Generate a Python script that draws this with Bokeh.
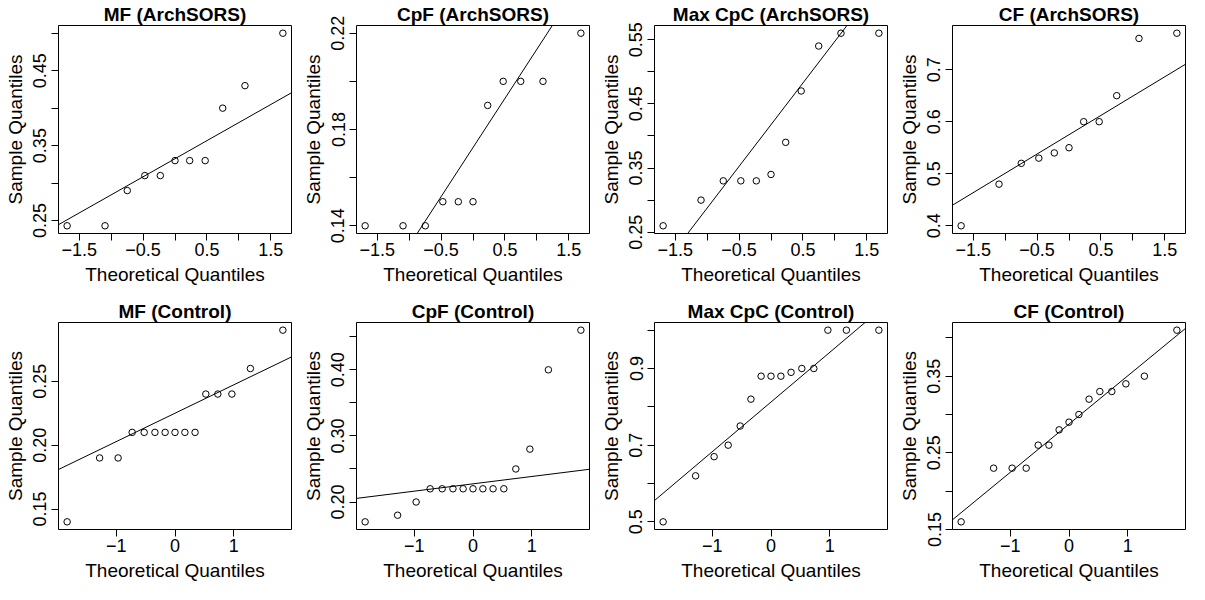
import numpy as np
from bokeh.plotting import figure
from bokeh.models import Range1d, FixedTicker, Slope, ColumnDataSource
from bokeh.layouts import column, row
from bokeh.embed import file_html
from bokeh.resources import INLINE

# ---------------- data ----------------
theo11 = [-1.691, -1.097, -0.748, -0.473, -0.230, 0.0, 0.230, 0.473, 0.748, 1.097, 1.691]
theo15 = [-1.834, -1.282, -0.967, -0.728, -0.524, -0.341, -0.168, 0.0,
          0.168, 0.341, 0.524, 0.728, 0.967, 1.282, 1.834]

mf_arch = [0.243, 0.243, 0.29, 0.31, 0.31, 0.33, 0.33, 0.33, 0.40, 0.43, 0.50]
cpf_arch = [0.14, 0.14, 0.14, 0.15, 0.15, 0.15, 0.19, 0.20, 0.20, 0.20, 0.22]
maxcpc_arch = [0.26, 0.30, 0.33, 0.33, 0.33, 0.34, 0.39, 0.47, 0.54, 0.56, 0.56]
cf_arch = [0.40, 0.48, 0.52, 0.53, 0.54, 0.55, 0.60, 0.60, 0.65, 0.76, 0.77]

mf_ctrl = [0.14, 0.19, 0.19, 0.21, 0.21, 0.21, 0.21, 0.21, 0.21, 0.21, 0.24, 0.24, 0.24, 0.26, 0.29]
cpf_ctrl = [0.17, 0.18, 0.20, 0.22, 0.22, 0.22, 0.22, 0.22, 0.22, 0.22, 0.22, 0.25, 0.28, 0.40, 0.46]
maxcpc_ctrl = [0.50, 0.62, 0.67, 0.70, 0.75, 0.82, 0.88, 0.88, 0.88, 0.89, 0.90, 0.90, 1.00, 1.00, 1.00]
cf_ctrl = [0.16, 0.23, 0.23, 0.23, 0.26, 0.26, 0.28, 0.29, 0.30, 0.32, 0.33, 0.33, 0.34, 0.35, 0.41]

titles_top = ["MF (ArchSORS)", "CpF (ArchSORS)", "Max CpC (ArchSORS)", "CF (ArchSORS)"]
titles_bot = ["MF (Control)", "CpF (Control)", "Max CpC (Control)", "CF (Control)"]

xticks_top = [-1.5, -1.0, -0.5, 0.0, 0.5, 1.0, 1.5]
xlabels_top = ["\u22121.5", "", "\u22120.5", "", "0.5", "", "1.5"]
xticks_bot = [-1.0, 0.0, 1.0]
xlabels_bot = ["\u22121", "0", "1"]

yticks = [
    [0.25, 0.30, 0.35, 0.40, 0.45, 0.50],
    [0.14, 0.16, 0.18, 0.20, 0.22],
    [0.25, 0.30, 0.35, 0.40, 0.45, 0.50, 0.55],
    [0.4, 0.5, 0.6, 0.7],
    [0.15, 0.20, 0.25],
    [0.20, 0.25, 0.30, 0.35, 0.40, 0.45],
    [0.5, 0.6, 0.7, 0.8, 0.9, 1.0],
    [0.15, 0.20, 0.25, 0.30, 0.35, 0.40],
]
ylabels = [
    ["0.25", "", "0.35", "", "0.45", ""],
    ["0.14", "", "0.18", "", "0.22"],
    ["0.25", "", "0.35", "", "0.45", "", "0.55"],
    ["0.4", "0.5", "0.6", "0.7"],
    ["0.15", "0.20", "0.25"],
    ["0.20", "", "0.30", "", "0.40", ""],
    ["0.5", "", "0.7", "", "0.9", ""],
    ["0.15", "", "0.25", "", "0.35", ""],
]

FONT = "Liberation Sans"


def panel(title, x, y, yt, yl, xt, xl, top_row, last):
    x = np.array(x); y = np.array(y)
    xpad = 0.04 * (x.max() - x.min())
    ypad = 0.04 * (y.max() - y.min())
    p = figure(
        title=title,
        width=292 if last else 298,
        height=297 if top_row else 287,
        x_range=Range1d(x.min() - xpad, x.max() + xpad),
        y_range=Range1d(y.min() - ypad, y.max() + ypad),
        output_backend="svg", toolbar_location=None,
        min_border_left=58, min_border_right=1 if last else 7,
        min_border_top=25,
        min_border_bottom=64 if top_row else 55,
        background_fill_color="white", border_fill_color="white",
    )
    p.grid.visible = False
    p.outline_line_color = "black"
    p.outline_line_width = 1
    p.outline_line_alpha = 1.0
    p.title.align = "center"
    p.title.text_font = FONT
    p.title.text_font_style = "bold"
    p.title.text_font_size = "19px"
    p.title.text_color = "black"
    p.title.standoff = 1

    for ax in (p.xaxis[0], p.yaxis[0]):
        ax.axis_line_color = None
        ax.major_tick_in = 0
        ax.major_tick_out = 7
        ax.major_tick_line_color = "black"
        ax.minor_tick_line_color = None
        ax.major_label_text_font = FONT
        ax.major_label_text_font_size = "18px"
        ax.major_label_text_color = "black"
        ax.axis_label_text_font = FONT
        ax.axis_label_text_font_size = "19px"
        ax.axis_label_text_font_style = "normal"
        ax.axis_label_text_color = "black"

    p.xaxis.axis_label = "Theoretical Quantiles"
    p.yaxis.axis_label = "Sample Quantiles"
    p.xaxis.ticker = FixedTicker(ticks=xt)
    p.xaxis.major_label_overrides = {t: l for t, l in zip(xt, xl)}
    p.yaxis.ticker = FixedTicker(ticks=yt)
    p.yaxis.major_label_overrides = {t: l for t, l in zip(yt, yl)}
    p.yaxis.major_label_orientation = "vertical"
    p.xaxis.major_label_standoff = 2
    p.xaxis.axis_label_standoff = 5
    p.yaxis.major_label_standoff = 5
    p.yaxis.axis_label_standoff = 5

    # qqline through quartiles (R's qqline)
    q1, q3 = np.percentile(y, [25, 75])
    z = 0.6744897501960817
    slope = (q3 - q1) / (2 * z)
    intercept = q1 + slope * z
    p.add_layout(Slope(gradient=slope, y_intercept=intercept,
                       line_color="black", line_width=1))

    src = ColumnDataSource(dict(x=x, y=y))
    p.scatter("x", "y", source=src, marker="circle", size=6.5,
              fill_color=None, line_color="black", line_width=1)
    return p


top_data = [mf_arch, cpf_arch, maxcpc_arch, cf_arch]
bot_data = [mf_ctrl, cpf_ctrl, maxcpc_ctrl, cf_ctrl]

top = [panel(titles_top[i], theo11, top_data[i], yticks[i], ylabels[i],
             xticks_top, xlabels_top, True, i == 3) for i in range(4)]
bot = [panel(titles_bot[i], theo15, bot_data[i], yticks[4 + i], ylabels[4 + i],
             xticks_bot, xlabels_bot, False, i == 3) for i in range(4)]

layout = column(row(*top, spacing=0), row(*bot, spacing=0), spacing=0)

open("out.html", "w").write(file_html(layout, INLINE))
